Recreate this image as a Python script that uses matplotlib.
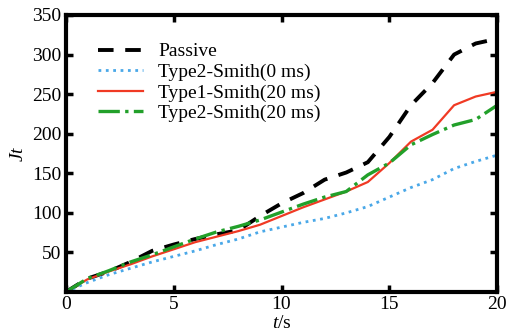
import numpy as np
import matplotlib.pyplot as plt

plt.rcParams['font.family'] = ['Liberation Serif', 'DejaVu Serif']
plt.rcParams['mathtext.fontset'] = 'custom'
plt.rcParams['mathtext.rm'] = 'Liberation Serif'
plt.rcParams['mathtext.it'] = 'Liberation Serif:italic'

# time axis (s)
t = [0, 1, 2, 3, 4, 5, 6, 7, 8, 9, 10, 11, 12, 13, 14, 15, 16, 17, 18, 19, 20]

passive = [0, 17, 26, 38, 52, 60, 67, 73, 78, 96, 112, 125, 142, 151, 164, 196, 236, 264, 300, 314, 320]
type2_0ms = [0, 12, 22, 30, 38, 45, 52, 60, 67, 76, 82, 88, 93, 100, 108, 120, 132, 142, 156, 165, 173]
type1_20ms = [0, 16, 26, 35, 45, 54, 63, 70, 77, 85, 96, 107, 117, 127, 139, 163, 190, 205, 236, 247, 253]
type2_20ms = [0, 17, 27, 38, 47, 57, 67, 76, 83, 91, 101, 111, 120, 127, 148, 163, 186, 199, 211, 218, 236]

labels = ['Passive', 'Type2-Smith(0 ms)', 'Type1-Smith(20 ms)', 'Type2-Smith(20 ms)']

fig = plt.figure(figsize=(5.1, 3.33), dpi=100)
ax = fig.add_axes([0.129, 0.123, 0.846, 0.832])

ax.plot(t, passive, color='black', linestyle=(0, (4, 3)), linewidth=2.8, label=labels[0])
ax.plot(t, type2_0ms, color='#4aa8e8', linestyle=':', linewidth=2.0, label=labels[1])
ax.plot(t, type1_20ms, color='#f03a24', linestyle='-', linewidth=1.6, label=labels[2])
ax.plot(t, type2_20ms, color='#22a02a', linestyle='-.', linewidth=2.4, label=labels[3])

ax.set_xlim(0, 20)
ax.set_ylim(0, 350)
ax.set_xticks([0, 5, 10, 15, 20])
ax.set_yticks([50, 100, 150, 200, 250, 300, 350])
ax.tick_params(direction='in', length=5, width=2.5, labelsize=14, top=True, right=True, pad=3)
for s in ax.spines.values():
    s.set_linewidth(3)

ax.set_xlabel('$t$/s', fontsize=14, labelpad=1)
ax.set_ylabel('$Jt$', fontsize=14, labelpad=4)

ax.legend(loc='upper left', frameon=False, fontsize=14, handlelength=2.3,
          handletextpad=0.8, labelspacing=0.15, borderaxespad=0.6,
          bbox_to_anchor=(0.03, 0.97))

fig.savefig('out.png', dpi=100)
